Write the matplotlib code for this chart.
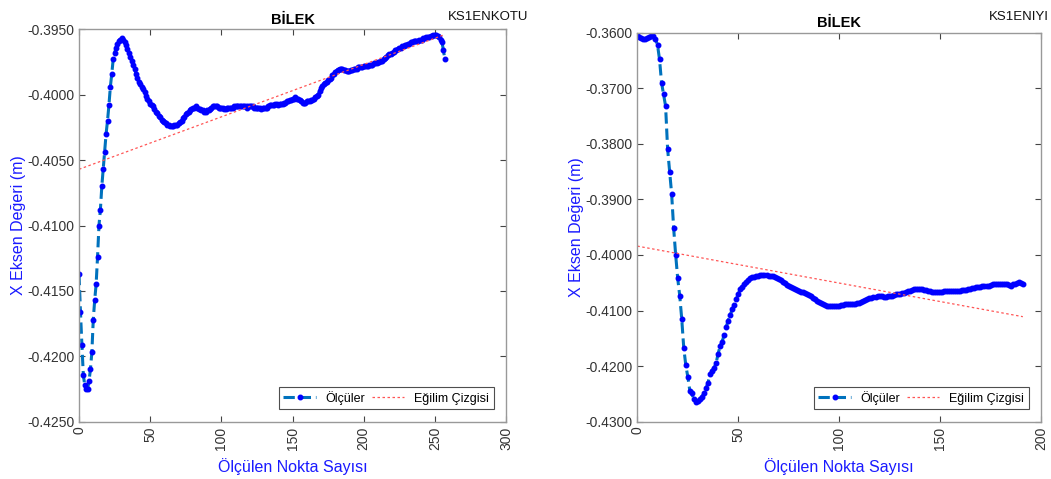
import numpy as np
import matplotlib.pyplot as plt
from matplotlib.ticker import FormatStrFormatter

plt.rcParams['font.family'] = ['Liberation Sans', 'DejaVu Sans']

# KS1ENKOTU - bilek X ekseni olcumleri (nokta sirasi 0..257)
enkotu_y = [
    -0.4137, -0.4166, -0.4191, -0.4214, -0.4222, -0.4225, -0.4225, -0.4219, -0.4210, -0.4197,
    -0.4172, -0.4157, -0.4145, -0.4124, -0.4100, -0.4088, -0.4070, -0.4057, -0.4044, -0.4030,
    -0.4020, -0.4008, -0.3994, -0.3984, -0.3973, -0.3968, -0.3964, -0.3961, -0.3959, -0.3958,
    -0.3957, -0.3958, -0.3960, -0.3962, -0.3965, -0.3968, -0.3971, -0.3974, -0.3977, -0.3980,
    -0.3984, -0.3987, -0.3990, -0.3992, -0.3994, -0.3996, -0.3998, -0.4001, -0.4003, -0.4005,
    -0.4007, -0.4008, -0.4009, -0.4011, -0.4013, -0.4014, -0.4016, -0.4017, -0.4019, -0.4020,
    -0.4021, -0.4022, -0.4023, -0.4023, -0.4024, -0.4024, -0.4024, -0.4023, -0.4023, -0.4023,
    -0.4022, -0.4021, -0.4020, -0.4018, -0.4017, -0.4015, -0.4014, -0.4013, -0.4012, -0.4011,
    -0.4010, -0.4010, -0.4009, -0.4010, -0.4011, -0.4011, -0.4012, -0.4012, -0.4013, -0.4013,
    -0.4012, -0.4012, -0.4011, -0.4010, -0.4009, -0.4009, -0.4009, -0.4009, -0.4010, -0.4010,
    -0.4010, -0.4010, -0.4011, -0.4011, -0.4010, -0.4010, -0.4010, -0.4010, -0.4010, -0.4009,
    -0.4009, -0.4009, -0.4009, -0.4009, -0.4009, -0.4009, -0.4009, -0.4009, -0.4010, -0.4009,
    -0.4009, -0.4009, -0.4009, -0.4010, -0.4010, -0.4010, -0.4010, -0.4010, -0.4011, -0.4010,
    -0.4010, -0.4010, -0.4010, -0.4009, -0.4008, -0.4008, -0.4008, -0.4008, -0.4007, -0.4007,
    -0.4008, -0.4007, -0.4007, -0.4007, -0.4006, -0.4006, -0.4005, -0.4005, -0.4004, -0.4004,
    -0.4003, -0.4003, -0.4002, -0.4003, -0.4003, -0.4004, -0.4005, -0.4006, -0.4006, -0.4006,
    -0.4005, -0.4005, -0.4005, -0.4004, -0.4004, -0.4003, -0.4002, -0.4001, -0.4000, -0.3997,
    -0.3995, -0.3993, -0.3992, -0.3991, -0.3990, -0.3989, -0.3988, -0.3987, -0.3985, -0.3984,
    -0.3983, -0.3982, -0.3981, -0.3980, -0.3980, -0.3980, -0.3981, -0.3981, -0.3982, -0.3982,
    -0.3982, -0.3981, -0.3981, -0.3980, -0.3980, -0.3980, -0.3979, -0.3979, -0.3979, -0.3979,
    -0.3978, -0.3978, -0.3978, -0.3978, -0.3977, -0.3977, -0.3977, -0.3976, -0.3976, -0.3976,
    -0.3975, -0.3975, -0.3974, -0.3974, -0.3973, -0.3972, -0.3971, -0.3970, -0.3969, -0.3969,
    -0.3968, -0.3967, -0.3966, -0.3966, -0.3965, -0.3964, -0.3964, -0.3963, -0.3963, -0.3962,
    -0.3962, -0.3961, -0.3961, -0.3960, -0.3960, -0.3959, -0.3959, -0.3959, -0.3959, -0.3958,
    -0.3958, -0.3958, -0.3957, -0.3957, -0.3956, -0.3956, -0.3956, -0.3955, -0.3955, -0.3954,
    -0.3954, -0.3954, -0.3955, -0.3956, -0.3958, -0.3960, -0.3966, -0.3973,
]

# KS1ENIYI - bilek X ekseni olcumleri (nokta sirasi 0..191)
eniyi_y = [
    -0.3601, -0.3607, -0.3610, -0.3611, -0.3611, -0.3610, -0.3608, -0.3606, -0.3606, -0.3612,
    -0.3622, -0.3648, -0.3690, -0.3711, -0.3732, -0.3809, -0.3850, -0.3890, -0.3952, -0.4000,
    -0.4042, -0.4073, -0.4115, -0.4167, -0.4198, -0.4219, -0.4244, -0.4249, -0.4260, -0.4264,
    -0.4263, -0.4260, -0.4255, -0.4248, -0.4240, -0.4230, -0.4215, -0.4208, -0.4203, -0.4195,
    -0.4178, -0.4164, -0.4156, -0.4144, -0.4130, -0.4118, -0.4108, -0.4098, -0.4090, -0.4080,
    -0.4070, -0.4062, -0.4057, -0.4052, -0.4048, -0.4045, -0.4042, -0.4040, -0.4039, -0.4038,
    -0.4037, -0.4036, -0.4036, -0.4036, -0.4036, -0.4037, -0.4037, -0.4038, -0.4039, -0.4041,
    -0.4043, -0.4045, -0.4048, -0.4051, -0.4054, -0.4056, -0.4058, -0.4060, -0.4061, -0.4063,
    -0.4064, -0.4066, -0.4067, -0.4068, -0.4070, -0.4072, -0.4074, -0.4077, -0.4080, -0.4083,
    -0.4085, -0.4087, -0.4089, -0.4090, -0.4091, -0.4092, -0.4092, -0.4092, -0.4092, -0.4091,
    -0.4091, -0.4090, -0.4090, -0.4089, -0.4089, -0.4089, -0.4089, -0.4089, -0.4088, -0.4087,
    -0.4086, -0.4084, -0.4082, -0.4081, -0.4079, -0.4078, -0.4077, -0.4076, -0.4075, -0.4074,
    -0.4074, -0.4074, -0.4075, -0.4075, -0.4074, -0.4073, -0.4073, -0.4072, -0.4071, -0.4070,
    -0.4070, -0.4069, -0.4068, -0.4066, -0.4065, -0.4064, -0.4063, -0.4062, -0.4062, -0.4062,
    -0.4062, -0.4062, -0.4063, -0.4063, -0.4064, -0.4065, -0.4066, -0.4067, -0.4067, -0.4067,
    -0.4066, -0.4066, -0.4065, -0.4065, -0.4065, -0.4064, -0.4064, -0.4065, -0.4065, -0.4064,
    -0.4064, -0.4063, -0.4063, -0.4063, -0.4062, -0.4061, -0.4060, -0.4059, -0.4058, -0.4057,
    -0.4057, -0.4056, -0.4056, -0.4055, -0.4055, -0.4054, -0.4053, -0.4053, -0.4053, -0.4052,
    -0.4052, -0.4052, -0.4052, -0.4053, -0.4054, -0.4055, -0.4053, -0.4052, -0.4050, -0.4049,
    -0.4050, -0.4052,
]

# egilim cizgisi uc noktalari (x, y)
enkotu_trend = ([0, 257], [-0.4057, -0.3954])
eniyi_trend = ([0, 191], [-0.3984, -0.4111])

paneller = [
    dict(y=enkotu_y, trend=enkotu_trend, kod="KS1ENKOTU",
         xlim=(0, 300), xticks=[0, 50, 100, 150, 200, 250, 300],
         ylim=(-0.4250, -0.3950), yticks=np.arange(-0.4250, -0.3949, 0.005),
         rect=[0.0752, 0.1196, 0.4063, 0.8192], kod_x=528),
    dict(y=eniyi_y, trend=eniyi_trend, kod="KS1ENIYI",
         xlim=(0, 200), xticks=[0, 50, 100, 150, 200],
         ylim=(-0.4300, -0.3600), yticks=np.arange(-0.4300, -0.3599, 0.01),
         rect=[0.6064, 0.1196, 0.3841, 0.8121], kod_x=1049),
]

fig = plt.figure(figsize=(10.51, 4.79), dpi=100)

for p in paneller:
    ax = fig.add_axes(p["rect"])
    x = np.arange(len(p["y"]))
    ax.plot(x, p["y"], linestyle="--", color="#0072BD", linewidth=2.2,
            marker=".", markersize=6.5, markerfacecolor="#0000FF",
            markeredgecolor="#0000FF", label="Ölçüler")
    ax.plot(p["trend"][0], p["trend"][1], linestyle=(0, (2, 2)),
            color="#FF5555", linewidth=0.9, label="Eğilim Çizgisi")

    ax.set_xlim(*p["xlim"])
    ax.set_ylim(*p["ylim"])
    ax.set_xticks(p["xticks"])
    ax.set_yticks(p["yticks"])
    ax.yaxis.set_major_formatter(FormatStrFormatter("%.4f"))
    ax.tick_params(axis="x", labelrotation=90)
    ax.tick_params(direction="in", top=True, right=True, length=4,
                   color="#444444", labelcolor="#333333", labelsize=10)
    for s in ax.spines.values():
        s.set_color("#999999")
        s.set_linewidth(1.0)

    ax.set_title("BİLEK", fontsize=10.5, fontweight="bold", pad=4)
    ax.set_xlabel("Ölçülen Nokta Sayısı", color="#1a1aff", fontsize=11.5, labelpad=6)
    ax.set_ylabel("X Eksen Değeri (m)", color="#1a1aff", fontsize=11.5, labelpad=1)

    leg = ax.legend(loc="lower right", ncol=2, fontsize=9, frameon=True,
                    fancybox=False, edgecolor="#222222", borderaxespad=1.0,
                    handlelength=2.6, columnspacing=0.5, handletextpad=0.8,
                    borderpad=0.35)
    leg.get_frame().set_linewidth(0.8)

    fig.text(p["kod_x"] / 1051, 1 - 17 / 479, p["kod"], ha="right", va="center",
             fontsize=9.5, color="#111111")

fig.savefig("out.png", dpi=100)
